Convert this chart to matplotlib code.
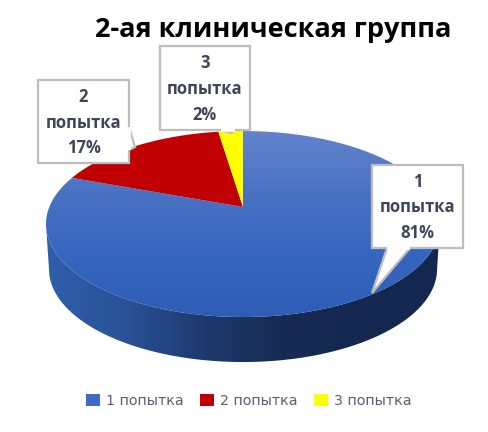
import numpy as np
import matplotlib
matplotlib.use("Agg")
import matplotlib.pyplot as plt
from matplotlib.patches import Polygon, PathPatch, Patch
from matplotlib.path import Path
from matplotlib.colors import LinearSegmentedColormap

title = "2-ая клиническая группа"
categories = ["1 попытка", "2 попытка", "3 попытка"]
shares = [80.6, 17.0, 2.4]
slice_colors = ["#3F6BC4", "#C00000", "#FFFF00"]
label_boxes = [(372, 165, 91, 83), (38, 80, 91, 83), (160, 46, 90, 84)]
label_tails = [[(387, 248), (372, 293), (410, 248)],
               [(129, 127), (135, 147), (129, 150)],
               [(221, 130), (231, 133), (235, 130)]]

CX, CY = 243, 207
RX, K, A = 193.7, 0.183, 89.9
DEPTH = 45
TEXT = "#3F4658"

fig = plt.figure(figsize=(4.89, 4.32), dpi=100)
ax = fig.add_axes([0, 0, 1, 1])
ax.set_xlim(0, 489)
ax.set_ylim(432, 0)
ax.axis("off")


def project(theta, dy=0, sx=1.0):
    X, Y = np.sin(theta), np.cos(theta)
    d = 1 + K * Y
    return np.column_stack([CX + sx * RX * X / d, CY - A * Y / d + dy])


def gradient(path, colors, horizontal, extent, z):
    cmap = LinearSegmentedColormap.from_list("g", colors)
    g = np.linspace(0, 1, 256)
    g = g[None, :] if horizontal else g[:, None]
    im = ax.imshow(g, cmap=cmap, extent=extent, aspect="auto", zorder=z)
    im.set_clip_path(PathPatch(path, transform=ax.transData))


# side wall
full = np.linspace(0, 2 * np.pi, 720)
rim = project(full)
i_l, i_r = rim[:, 0].argmin(), rim[:, 0].argmax()
arc_t = full[i_r:i_l + 1]
wall = np.vstack([project(arc_t), project(arc_t, DEPTH, 0.985)[::-1]])
gradient(Path(wall), ["#2F5EAB", "#2A5296", "#1E3A6E", "#172B52", "#14284F", "#14284F"], True,
         (46, 440, 362, 140), 1)

# top face, clockwise from 12 o'clock
edges = np.cumsum([0] + shares) / sum(shares) * 2 * np.pi
for i, color in enumerate(slice_colors):
    arc = project(np.linspace(edges[i], edges[i + 1], 300))
    pts = np.vstack([[CX, CY], arc])
    if i == 0:
        gradient(Path(pts), ["#6283CC", "#4A72C4", "#3766BE", "#2F5DB5"], False,
                 (40, 445, 317, 131), 2)
    else:
        ax.add_patch(Polygon(pts, closed=True, fc=color, ec="none", zorder=2))

# callouts
for (x, y, w, h), tail, cat, share in zip(label_boxes, label_tails, categories, shares):
    ax.add_patch(Polygon(tail, closed=True, fc="white", ec="#BDBDBD", lw=1.6, zorder=3))
    ax.add_patch(plt.Rectangle((x, y), w, h, fc="white", ec="#BDBDBD", lw=1.6, zorder=3))
    ax.add_patch(Polygon([tail[0], tail[-1]], closed=False, ec="white", lw=2.6, zorder=3.5))
    num, word = cat.split()
    ax.text(x + w / 2, y + h / 2 + 1, f"{num}\n{word}\n{share:.0f}%", ha="center", va="center",
            fontsize=12, fontweight="bold", family="Open Sans", color=TEXT,
            linespacing=1.55, zorder=4)

ax.text(273.5, 30, title, ha="center", va="center", fontsize=19.5, fontweight="bold",
        family="Open Sans", color="black", zorder=5)

handles = [Patch(fc=c, ec="none") for c in slice_colors]
ax.legend(handles, categories, loc="center", bbox_to_anchor=(249, 401),
          bbox_transform=ax.transData, ncol=3, frameon=False,
          prop={"family": "DejaVu Sans", "size": 10.3}, labelcolor="#595F6E",
          handlelength=0.95, handleheight=0.95, handletextpad=0.45, columnspacing=1.15)

fig.savefig("out.png", dpi=100, facecolor="white")
